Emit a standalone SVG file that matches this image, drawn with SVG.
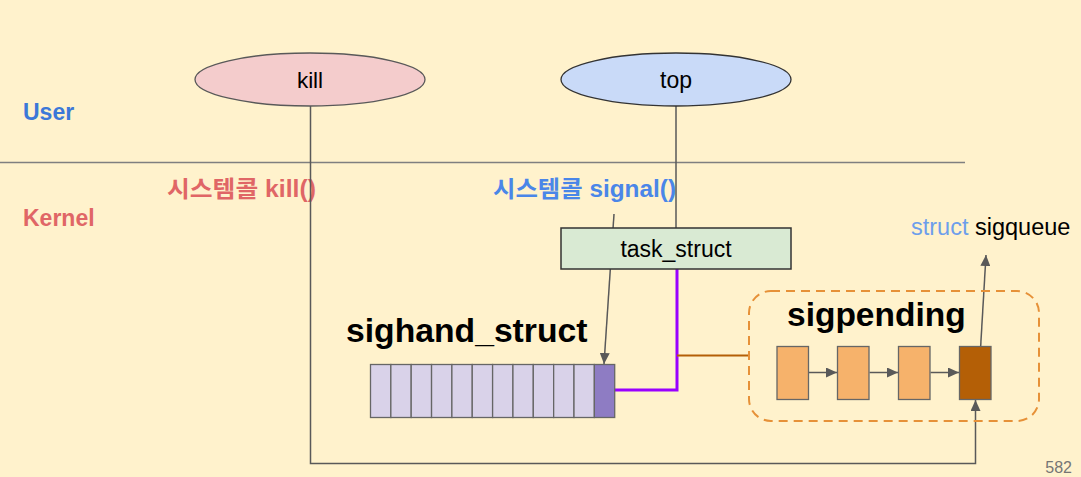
<svg xmlns="http://www.w3.org/2000/svg" width="1081" height="477" viewBox="0 0 1081 477">
<defs>
<style>
.t{font-family:"Liberation Sans","Noto Sans CJK KR",Arial,sans-serif;}
.b{font-weight:bold;}
.ln{fill:none;stroke:#595959;stroke-width:1.5;}
.cell{fill:#d9d2e9;stroke:#666;stroke-width:1.3;}
.q{fill:#f6b26b;stroke:#666;stroke-width:1.3;}
</style>
<marker id="ah" markerUnits="userSpaceOnUse" markerWidth="12" markerHeight="10" refX="11" refY="5" orient="auto">
<path d="M0,0 L11,5 L0,10 Z" fill="#595959"/>
</marker>
</defs>
<rect width="1081" height="477" fill="#fff2cc"/>
<line x1="0" y1="162.5" x2="965" y2="162.5" stroke="#7f7f7f" stroke-width="1.5"/>
<text class="t b" x="23" y="120" font-size="23" fill="#3c78d8">User</text>
<text class="t b" x="23" y="226" font-size="23" fill="#e06666">Kernel</text>
<text class="t b" x="167" y="197" font-size="23" fill="#e06666" textLength="149" lengthAdjust="spacingAndGlyphs">시스템콜 kill()</text>
<text class="t b" x="493" y="197" font-size="23" fill="#4a86e8" textLength="183" lengthAdjust="spacingAndGlyphs">시스템콜 signal()</text>
<g id="connectors">
<polyline class="ln" points="310.5,106 310.5,463.5 975.5,463.5 975.5,400" marker-end="url(#ah)"/>
<line class="ln" x1="676" y1="106" x2="676" y2="228"/>
<line class="ln" x1="614" y1="214" x2="604" y2="364" stroke-width="1.2" marker-end="url(#ah)"/>
<polyline points="614.5,390 677,390 677,269" fill="none" stroke="#9900ff" stroke-width="3"/>
<line x1="677" y1="355.5" x2="749" y2="355.5" stroke="#b45f06" stroke-width="2"/>
<line class="ln" x1="808.5" y1="372.5" x2="837" y2="372.5" stroke-width="1.3" marker-end="url(#ah)"/>
<line class="ln" x1="869.5" y1="372.5" x2="898" y2="372.5" stroke-width="1.3" marker-end="url(#ah)"/>
<line class="ln" x1="930.5" y1="372.5" x2="959" y2="372.5" stroke-width="1.3" marker-end="url(#ah)"/>
<line class="ln" x1="979.5" y1="366" x2="986" y2="255" stroke-width="1.3" marker-end="url(#ah)"/>
</g>
<g id="kill">
<ellipse cx="310" cy="79.5" rx="115" ry="26.5" fill="#f4cccc" stroke="#595959" stroke-width="1.3"/>
<text class="t" x="310" y="88" font-size="22.5" text-anchor="middle" fill="#000">kill</text>
</g>
<g id="top">
<ellipse cx="676" cy="79.5" rx="115" ry="26.5" fill="#c9daf8" stroke="#333" stroke-width="1.3"/>
<text class="t" x="676" y="88" font-size="23" text-anchor="middle" fill="#000">top</text>
</g>
<g id="task_struct">
<rect x="561" y="228" width="230" height="41" fill="#d9ead3" stroke="#333" stroke-width="1.5"/>
<text class="t" x="676" y="256.5" font-size="23" text-anchor="middle" fill="#000">task_struct</text>
</g>
<g id="sighand_struct">
<text class="t b" x="346" y="341.5" font-size="33.7" fill="#000">sighand_struct</text>
<rect class="cell" x="370.5" y="364.5" width="20.35" height="53"/>
<rect class="cell" x="390.85" y="364.5" width="20.35" height="53"/>
<rect class="cell" x="411.2" y="364.5" width="20.35" height="53"/>
<rect class="cell" x="431.55" y="364.5" width="20.35" height="53"/>
<rect class="cell" x="451.9" y="364.5" width="20.35" height="53"/>
<rect class="cell" x="472.25" y="364.5" width="20.35" height="53"/>
<rect class="cell" x="492.6" y="364.5" width="20.35" height="53"/>
<rect class="cell" x="512.95" y="364.5" width="20.35" height="53"/>
<rect class="cell" x="533.3" y="364.5" width="20.35" height="53"/>
<rect class="cell" x="553.65" y="364.5" width="20.35" height="53"/>
<rect class="cell" x="574" y="364.5" width="20.35" height="53"/>
<rect x="594.35" y="364.5" width="20.35" height="53" fill="#8e7cc3" stroke="#666" stroke-width="1.3"/>
</g>
<g id="sigpending">
<rect x="749" y="291" width="290" height="130" rx="22" ry="22" fill="none" stroke="#e69138" stroke-width="2" stroke-dasharray="9,6"/>
<text class="t b" x="787" y="326" font-size="33.5" fill="#000">sigpending</text>
<rect class="q" x="777" y="346.5" width="31.5" height="53"/>
<rect class="q" x="837.5" y="346.5" width="31.5" height="53"/>
<rect class="q" x="898.5" y="346.5" width="31.5" height="53"/>
<rect x="959.5" y="346.5" width="31.5" height="53" fill="#b45f06" stroke="#666" stroke-width="1.3"/>
</g>
<g id="sigqueue">
<text class="t" x="911" y="235" font-size="23.5" fill="#000"><tspan fill="#6d9eeb">struct</tspan> sigqueue</text>
</g>
<text class="t" x="1072" y="473" font-size="16" text-anchor="end" fill="#757575">582</text>
</svg>
